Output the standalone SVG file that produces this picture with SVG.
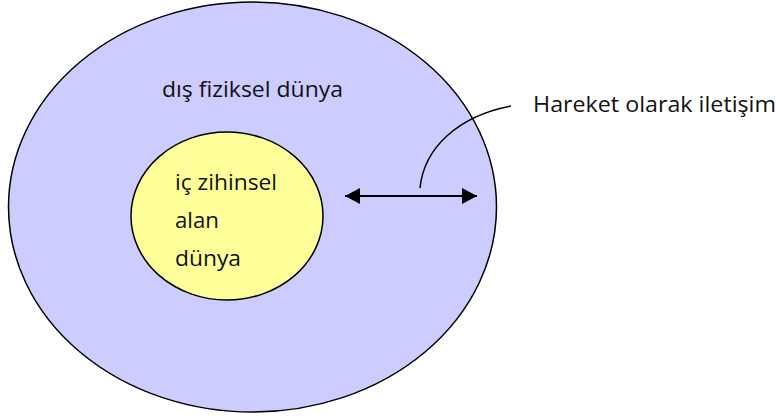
<svg xmlns="http://www.w3.org/2000/svg" width="776" height="416" viewBox="0 0 776 416">
<style>
text{font-family:"Open Sans","Noto Sans",sans-serif;font-size:21px;fill:#111}
.o{stroke:#000;stroke-width:1.5}
</style>
<defs>
<marker id="a" viewBox="0 0 15 16" refX="15" refY="8" markerWidth="15" markerHeight="16" markerUnits="userSpaceOnUse" orient="auto-start-reverse"><path d="M0 0L15 8L0 16z" fill="#000"/></marker>
</defs>
<rect width="776" height="416" fill="#fff"/>
<g id="outer"><ellipse class="o" cx="252.500" cy="207" rx="244" ry="205" fill="#ccccff"/><text x="162" y="97" textLength="181" lengthAdjust="spacingAndGlyphs">dış fiziksel dünya</text></g>
<g id="inner"><ellipse class="o" cx="227" cy="216" rx="96" ry="84" fill="#ffff99"/><text x="175" y="190" textLength="102" lengthAdjust="spacingAndGlyphs">iç zihinsel</text><text x="175" y="228" textLength="44" lengthAdjust="spacingAndGlyphs">alan</text><text x="175" y="266" textLength="66" lengthAdjust="spacingAndGlyphs">dünya</text></g>
<g id="label"><text x="533" y="112" textLength="243" lengthAdjust="spacingAndGlyphs">Hareket olarak iletişim</text></g>
<g id="connectors" fill="none" stroke="#000">
<path d="M420 188C424 148 458 116 511 106" stroke-width="1.5"/>
<path d="M345 196H477" stroke-width="2" marker-start="url(#a)" marker-end="url(#a)"/>
</g>
</svg>
